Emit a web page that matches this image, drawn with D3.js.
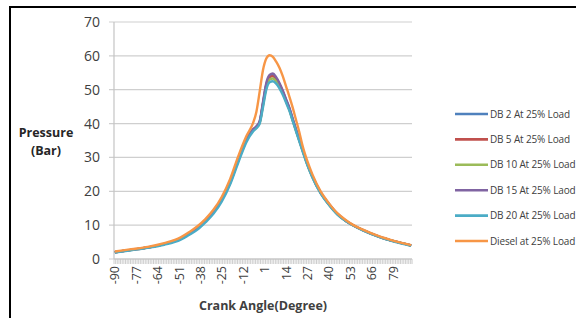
<!DOCTYPE html>
<html><head><meta charset="utf-8">
<script src="https://cdn.jsdelivr.net/npm/d3@7/dist/d3.min.js"></script>
<style>body{margin:0;background:#fff}svg{display:block}</style>
</head><body>
<svg id="c" width="576" height="318"></svg>
<script>
const angles = [-90,-80,-70,-60,-50,-45,-40,-35,-30,-25,-20,-15,-10,-6,-4,-2,0,2,4,6,8,10,12,14,16,18,20,22,24,27,30,35,40,45,50,55,60,70,80,90];
const db2    = [2.0,2.7,3.4,4.4,6.0,7.4,9.0,11.2,13.9,17.6,22.6,29.2,35.2,38.2,39.0,40.5,46.0,51.5,54.0,54.4,53.3,51.6,49.5,47.0,44.5,41.3,38.3,35.3,32.3,28.0,24.4,19.6,16.2,13.4,11.4,9.9,8.7,6.7,5.2,4.0];
const db5    = [2.0,2.7,3.4,4.4,6.0,7.4,9.0,11.2,13.9,17.6,22.6,29.2,35.2,38.2,39.0,40.4,45.8,51.2,53.7,54.0,53.0,51.4,49.3,46.8,44.3,41.1,38.1,35.1,32.2,27.9,24.3,19.5,16.2,13.4,11.4,9.9,8.7,6.7,5.2,4.0];
const db10   = [2.0,2.7,3.4,4.4,6.0,7.3,8.9,11.1,13.8,17.5,22.4,29.0,35.0,38.0,38.8,40.2,45.4,50.7,53.0,53.3,52.5,51.0,49.0,46.6,44.1,41.0,38.0,35.0,32.1,27.8,24.2,19.5,16.1,13.3,11.3,9.9,8.7,6.7,5.2,4.0];
const db15   = [2.0,2.7,3.4,4.4,6.0,7.4,9.0,11.2,13.9,17.6,22.6,29.2,35.3,38.3,39.2,40.8,46.4,52.0,54.4,54.8,53.7,52.0,49.8,47.2,44.7,41.5,38.4,35.4,32.4,28.1,24.5,19.7,16.3,13.4,11.4,9.9,8.7,6.7,5.2,4.0];
const db20   = [1.9,2.6,3.3,4.2,5.7,7.1,8.6,10.8,13.4,17.0,22.0,28.5,34.6,37.7,38.6,40.0,44.8,50.0,52.2,52.5,51.8,50.4,48.5,46.2,43.8,40.8,37.8,34.8,31.9,27.7,24.1,19.4,16.0,13.2,11.3,9.8,8.6,6.6,5.1,3.9];
const diesel = [2.2,2.9,3.6,4.7,6.4,7.9,9.6,11.8,14.6,18.4,23.6,30.4,36.4,40.2,43.5,49.5,55.8,59.2,60.2,59.7,58.3,56.5,54.0,51.0,48.0,44.8,41.2,37.6,33.5,28.8,25.0,20.0,16.5,13.6,11.6,10.0,8.8,6.8,5.3,4.1];
const seriesNames = ["DB 2 At 25% Load","DB 5 At 25% Load","DB 10 At 25% Load","DB 15 At 25% Laod","DB 20 At 25% Load","Diesel at 25% Load"];
const seriesColors = ["#4F81BD","#C0504D","#9BBB59","#8064A2","#4BACC6","#F79646"];
const xTickLabels = [-90,-77,-64,-51,-38,-25,-12,1,14,27,40,53,66,79];
const yTicks = [0,10,20,30,40,50,60,70];

const seriesValues = [db2, db5, db10, db15, db20, diesel];
const svg = d3.select("#c");
const L = 114, R = 412, T = 22, B = 259;
const x = d3.scaleLinear().domain([-90.5, 90.5]).range([L, R]);
const y = d3.scaleLinear().domain([0, 70]).range([B, T]);
const font = "'Open Sans', 'Liberation Sans', sans-serif";

// frame
svg.append("rect").attr("x",10).attr("y",7).attr("width",700).attr("height",400)
  .attr("fill","none").attr("stroke","#000").attr("stroke-width",2);

// gridlines
svg.append("g").selectAll("line").data(yTicks).join("line")
  .attr("x1", L-5).attr("x2", R).attr("y1", d=>y(d)).attr("y2", d=>y(d))
  .attr("stroke","#cfcfcf").attr("stroke-width",1.2);

// y axis line
svg.append("line").attr("x1",L).attr("x2",L).attr("y1",T).attr("y2",B).attr("stroke","#c4c4c4").attr("stroke-width",1.2);

// y labels
svg.append("g").selectAll("text").data(yTicks).join("text")
  .attr("x", 100).attr("y", d=>y(d)).attr("dy","0.36em").attr("text-anchor","end")
  .attr("font-family",font).attr("font-size",14).attr("fill","#404040").text(d=>d);

// x minor tick band
const minor = d3.range(-90, 91, 1);
svg.append("g").selectAll("line").data(minor).join("line")
  .attr("x1", d=>x(d-0.5)).attr("x2", d=>x(d-0.5)).attr("y1",B).attr("y2",B+5)
  .attr("stroke","#c8c8c8").attr("stroke-width",0.9);
svg.append("line").attr("x1",R).attr("x2",R).attr("y1",B).attr("y2",B+5).attr("stroke","#c8c8c8");
svg.append("line").attr("x1",L).attr("x2",R).attr("y1",B).attr("y2",B).attr("stroke","#c4c4c4").attr("stroke-width",1.2);

// x labels
svg.append("g").selectAll("text").data(xTickLabels).join("text")
  .attr("transform", d=>`translate(${x(d)},${B+7}) rotate(-90)`)
  .attr("text-anchor","end").attr("dy","0.36em")
  .attr("font-family",font).attr("font-size",12.5).attr("fill","#404040").text(d=>d);

// axis titles
svg.append("text").attr("x",263).attr("y",310).attr("text-anchor","middle")
  .attr("font-family",font).attr("font-weight","bold").attr("font-size",12.5).attr("fill","#404040")
  .text("Crank Angle(Degree)");
const yt = svg.append("text").attr("text-anchor","middle").attr("font-family",font)
  .attr("font-weight","bold").attr("font-size",12.5).attr("fill","#262626");
yt.append("tspan").attr("x",46).attr("y",137).text("Pressure");
yt.append("tspan").attr("x",46).attr("y",155).text("(Bar)");

// lines
const line = d3.line().x(d=>x(d[0])).y(d=>y(d[1])).curve(d3.curveMonotoneX);
seriesValues.forEach((vals,i)=>{
  svg.append("path").datum(angles.map((a,j)=>[a, vals[j]]))
    .attr("d", line).attr("fill","none").attr("stroke", seriesColors[i])
    .attr("stroke-width",2.4).attr("stroke-linejoin","round");
});

// legend
const lg = svg.append("g");
seriesNames.forEach((n,i)=>{
  const yy = 114 + i*25.4;
  lg.append("line").attr("x1",455).attr("x2",488).attr("y1",yy).attr("y2",yy)
    .attr("stroke",seriesColors[i]).attr("stroke-width",2.6);
  lg.append("text").attr("x",490).attr("y",yy).attr("dy","0.35em")
    .attr("font-family",font).attr("font-size",10).attr("letter-spacing",-0.15).attr("fill","#404040").text(n);
});
</script>
</body></html>
